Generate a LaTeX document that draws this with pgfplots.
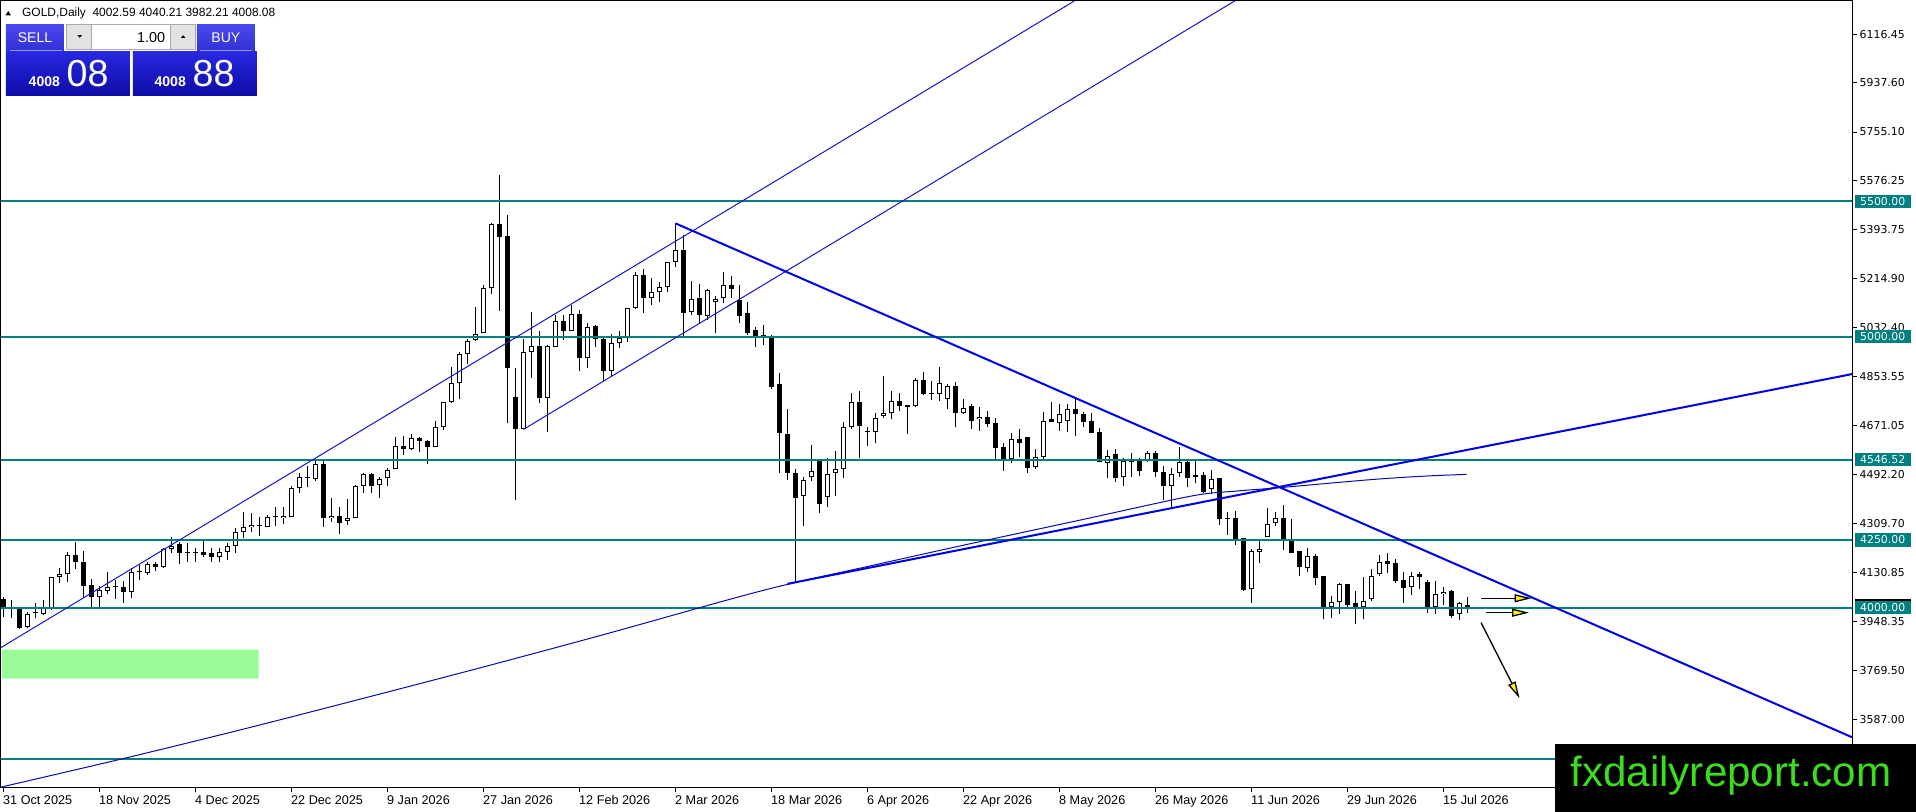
\documentclass[border=0pt]{standalone}
\usepackage{fontspec}
\setmainfont{Liberation Sans}
\newfontfamily\dejavu{DejaVu Sans}
\usepackage{pgfplots}
\pgfplotsset{compat=1.18}
\usepackage{pgfplotstable}
\usetikzlibrary{arrows.meta}

\definecolor{mtteal}{RGB}{0,128,128}
\definecolor{mtblue}{RGB}{0,0,230}
\definecolor{mtthin}{RGB}{20,20,200}
\definecolor{mtma}{RGB}{10,10,170}
\definecolor{palegr}{RGB}{152,251,152}
\definecolor{wmgreen}{RGB}{60,220,30}
\definecolor{btntop}{RGB}{72,72,236}
\definecolor{btnbot}{RGB}{48,48,212}
\definecolor{boxtop}{RGB}{40,40,224}
\definecolor{boxbot}{RGB}{12,12,165}
\definecolor{btnline}{RGB}{150,150,255}
\definecolor{ctlgray}{RGB}{226,226,226}
\definecolor{ctlborder}{RGB}{170,170,170}

\pgfplotstableread{
i o h l c
0 4031 4041 3967 3998
1 3996 4028 3961 3999
2 3998 4001 3921 3926
3 3930 3985 3924 3976
4 3979 4016 3961 3981
5 3975 4028 3973 3998
6 3998 4112 3991 4112
7 4112 4145 4092 4124
8 4124 4207 4096 4194
9 4194 4241 4142 4167
10 4170 4209 4041 4080
11 4084 4105 4001 4041
12 4041 4080 3994 4065
13 4063 4133 4049 4075
14 4075 4102 4032 4076
15 4075 4099 4019 4059
16 4059 4145 4037 4130
17 4130 4158 4102 4132
18 4129 4170 4121 4160
19 4160 4170 4137 4151
20 4151 4219 4148 4215
21 4215 4260 4203 4228
22 4234 4244 4160 4203
23 4204 4238 4170 4203
24 4203 4221 4170 4202
25 4204 4252 4188 4193
26 4200 4219 4170 4186
27 4186 4219 4167 4204
28 4204 4240 4176 4228
29 4228 4293 4203 4278
30 4278 4354 4256 4296
31 4296 4348 4281 4305
32 4302 4336 4266 4303
33 4299 4342 4297 4333
34 4334 4373 4301 4333
35 4330 4370 4309 4338
36 4336 4449 4336 4443
37 4440 4498 4424 4481
38 4481 4523 4444 4480
39 4474 4545 4467 4529
40 4529 4545 4299 4330
41 4330 4404 4317 4338
42 4338 4373 4272 4314
43 4321 4401 4305 4330
44 4330 4453 4330 4449
45 4449 4498 4424 4492
46 4492 4498 4422 4450
47 4453 4481 4404 4474
48 4477 4514 4450 4508
49 4511 4631 4511 4597
50 4597 4634 4563 4584
51 4584 4641 4582 4625
52 4625 4631 4576 4615
53 4615 4619 4530 4594
54 4592 4690 4592 4668
55 4668 4760 4656 4760
56 4760 4889 4754 4828
57 4828 4945 4769 4936
58 4936 4990 4898 4984
59 4988 5111 4985 5009
60 5012 5191 5012 5178
61 5178 5421 5158 5416
62 5416 5597 5096 5369
63 5372 5449 4680 4886
64 4776 4883 4397 4658
65 4658 4992 4658 4942
66 4945 5092 4849 4966
67 4966 5021 4757 4775
68 4775 4969 4650 4966
69 4963 5080 4963 5058
70 5058 5080 4988 5022
71 5022 5117 5022 5083
72 5083 5099 4873 4920
73 4920 5049 4883 5037
74 5041 5043 4963 4990
75 4992 4994 4837 4875
76 4875 5009 4853 4975
77 4975 5021 4957 4996
78 4996 5105 4982 5105
79 5105 5238 5101 5228
80 5228 5250 5089 5142
81 5142 5215 5117 5164
82 5164 5203 5127 5182
83 5182 5277 5164 5277
84 5277 5418 5258 5320
85 5320 5375 4994 5086
86 5092 5205 5080 5138
87 5144 5194 5049 5080
88 5078 5175 5062 5172
89 5127 5150 5012 5138
90 5144 5240 5123 5191
91 5191 5224 5144 5175
92 5135 5191 5052 5078
93 5089 5127 5006 5015
94 5025 5035 4963 5004
95 5004 5043 4969 5005
96 5000 5006 4806 4816
97 4826 4865 4498 4646
98 4641 4732 4471 4496
99 4496 4511 4096 4404
100 4413 4481 4301 4471
101 4481 4600 4469 4506
102 4545 4545 4348 4381
103 4410 4551 4373 4492
104 4496 4578 4412 4511
105 4511 4684 4480 4666
106 4668 4791 4658 4758
107 4758 4801 4551 4672
108 4650 4668 4598 4649
109 4647 4717 4606 4699
110 4709 4855 4701 4717
111 4717 4800 4695 4763
112 4763 4791 4726 4746
113 4748 4748 4641 4742
114 4744 4846 4742 4840
115 4840 4871 4783 4789
116 4787 4836 4766 4788
117 4787 4889 4764 4828
118 4770 4824 4733 4818
119 4818 4832 4665 4717
120 4717 4769 4713 4736
121 4744 4752 4659 4690
122 4695 4739 4653 4705
123 4702 4727 4666 4678
124 4680 4699 4548 4591
125 4592 4607 4506 4547
126 4547 4643 4535 4621
127 4621 4658 4557 4609
128 4629 4629 4498 4517
129 4520 4584 4511 4555
130 4555 4721 4547 4689
131 4695 4760 4684 4684
132 4680 4752 4653 4713
133 4689 4752 4647 4732
134 4732 4772 4635 4713
135 4713 4723 4666 4684
136 4689 4717 4643 4646
137 4647 4662 4536 4536
138 4533 4582 4477 4561
139 4566 4586 4463 4480
140 4481 4551 4450 4541
141 4541 4570 4483 4536
142 4543 4551 4487 4506
143 4543 4578 4539 4570
144 4570 4578 4481 4502
145 4500 4524 4397 4450
146 4450 4514 4367 4492
147 4496 4594 4483 4536
148 4536 4541 4444 4480
149 4490 4541 4459 4484
150 4490 4502 4422 4428
151 4437 4508 4420 4474
152 4477 4477 4305 4326
153 4326 4352 4268 4327
154 4330 4358 4231 4252
155 4256 4256 4063 4065
156 4068 4215 4019 4210
157 4204 4246 4166 4215
158 4262 4367 4262 4309
159 4311 4352 4301 4330
160 4330 4379 4213 4252
161 4250 4326 4201 4203
162 4209 4209 4117 4151
163 4145 4219 4133 4191
164 4191 4198 4084 4108
165 4117 4117 3957 3998
166 4001 4043 3961 4022
167 4022 4092 3977 4087
168 4087 4087 4001 4010
169 4019 4062 3940 4004
170 4004 4112 3957 4026
171 4031 4143 4026 4118
172 4123 4194 4117 4170
173 4172 4201 4127 4160
174 4164 4178 4092 4100
175 4102 4133 4019 4071
176 4075 4133 4047 4118
177 4123 4133 4068 4114
178 4094 4102 3982 4001
179 4001 4098 3977 4049
180 4049 4078 4010 4057
181 4062 4065 3963 3969
182 3977 4022 3955 4016
183 4002.59 4040.21 3982.21 4008.08
}\candles

\begin{document}
\begin{tikzpicture}
\begin{axis}[
  scale only axis, width=18.51cm, height=7.87cm,
  at={(0,0)}, anchor=south west,
  xmin=-0.3125, xmax=231.0625, ymin=3334.7, ymax=6238.7,
  axis line style={line width=0.2845pt, black},
  tick align=outside, major tick length=0.045cm,
  tick style={line width=0.2845pt, black},
  xtick pos=bottom, ytick pos=right, yticklabel pos=right,
  xtick={0,12,...,180},
  xticklabels={31 Oct 2025,18 Nov 2025,4 Dec 2025,22 Dec 2025,9 Jan 2026,27 Jan 2026,12 Feb 2026,2 Mar 2026,18 Mar 2026,6 Apr 2026,22 Apr 2026,8 May 2026,26 May 2026,11 Jun 2026,29 Jun 2026,15 Jul 2026},
  xticklabel style={font=\fontsize{3.6}{4}\selectfont, anchor=north west, inner sep=0pt, xshift=-0.01cm, yshift=-0.02cm},
  ytick={6116.45,5937.60,5755.10,5576.25,5393.75,5214.90,5032.40,4853.55,4671.05,4492.20,4309.70,4130.85,3948.35,3769.50,3587.00},
  yticklabels={6116.45,5937.60,5755.10,5576.25,5393.75,5214.90,5032.40,4853.55,4671.05,4492.20,4309.70,4130.85,3948.35,3769.50,3587.00},
  yticklabel style={font=\dejavu\fontsize{3.1}{3.6}\selectfont, anchor=west, inner sep=0pt, xshift=0.025cm},
  candle/.style={draw=none, no markers, forget plot, error bars/.cd, y dir=plus, y explicit, error mark=none},
]
% green zone
\addplot[fill=palegr, draw=none] coordinates {(-0.2,3738) (31.9,3738) (31.9,3845) (-0.2,3845) (-0.2,3738)};
% wicks
\addplot[candle, error bar style={draw=black, line width=0.2845pt, line cap=butt}]
  table[x=i, y=l, y error expr=\thisrow{h}-\thisrow{l}] {\candles};
% bodies
\addplot[candle, error bar style={draw=black, line width=1.42pt, line cap=butt}]
  table[x=i, y expr={min(\thisrow{o},\thisrow{c})}, y error expr={max(abs(\thisrow{c}-\thisrow{o}),3.69)}] {\candles};
\addplot[candle, error bar style={draw=white, line width=0.85pt, line cap=butt}]
  table[x=i, y expr={min(\thisrow{o},\thisrow{c})+3.69}, y error expr={(\thisrow{c}>\thisrow{o})*max(abs(\thisrow{c}-\thisrow{o})-7.38,0)}] {\candles};
% horizontal levels
\addplot[mtteal, line width=0.57pt] coordinates {(-0.3125,5500) (231.0625,5500)};
\addplot[mtteal, line width=0.57pt] coordinates {(-0.3125,5000) (231.0625,5000)};
\addplot[mtteal, line width=0.57pt] coordinates {(-0.3125,4546.52) (231.0625,4546.52)};
\addplot[mtteal, line width=0.57pt] coordinates {(-0.3125,4250) (231.0625,4250)};
\addplot[mtteal, line width=0.57pt] coordinates {(-0.3125,4000) (231.0625,4000)};
\addplot[mtteal, line width=0.57pt] coordinates {(-0.3125,3441) (231.0625,3441)};
% moving average
\addplot[mtma, line width=0.2845pt, smooth] coordinates {(-0.31,3338) (14.8,3442) (30,3552) (45.3,3668) (60.6,3786) (75.8,3907) (90.8,4031) (98,4086) (108,4152) (119.6,4228) (134.7,4324) (148.5,4412) (154,4430) (159.6,4443) (166,4460) (172,4475) (178,4486) (182.9,4492)};
% channel
\addplot[mtthin, line width=0.2845pt] coordinates {(-0.31,3853) (133.86,6238.7)};
\addplot[mtthin, line width=0.2845pt] coordinates {(65,4658) (153.9,6238.7)};
% trend lines
\addplot[mtblue, line width=0.57pt] coordinates {(84,5418) (231.0625,3522)};
\addplot[mtblue, line width=0.57pt] coordinates {(98,4088) (231.0625,4862)};
% arrows
\addplot[black, line width=0.37pt, -{Triangle[length=0.17cm,width=0.08cm,fill=yellow]}] coordinates {(184.7,4034.7) (191.0,4034.7)};
\addplot[black, line width=0.37pt, -{Triangle[length=0.17cm,width=0.08cm,fill=yellow]}] coordinates {(185.3,3981.5) (190.7,3981.5)};
\addplot[black, line width=0.37pt, -{Triangle[length=0.17cm,width=0.08cm,fill=yellow]}] coordinates {(184.7,3944.6) (189.5,3665.7)};
\coordinate (T5500) at (axis cs:231.0625,5500);
\coordinate (T5000) at (axis cs:231.0625,5000);
\coordinate (T4546) at (axis cs:231.0625,4546.52);
\coordinate (T4250) at (axis cs:231.0625,4250);
\coordinate (T4000) at (axis cs:231.0625,4000);
\coordinate (T4008) at (axis cs:231.0625,4008.08);
\end{axis}
% price labels of levels
\tikzset{lvl/.style={fill=mtteal, text=white, anchor=west, inner xsep=0.055cm, inner ysep=0.025cm, font=\dejavu\fontsize{3.1}{3.6}\selectfont}}
\node[lvl, fill=black, text=black] at ([xshift=0.02cm]T4008) {4008.08};
\node[lvl] at ([xshift=0.02cm]T5500) {5500.00};
\node[lvl] at ([xshift=0.02cm]T5000) {5000.00};
\node[lvl] at ([xshift=0.02cm]T4546) {4546.52};
\node[lvl] at ([xshift=0.02cm]T4250) {4250.00};
\node[lvl] at ([xshift=0.02cm]T4000) {4000.00};
% header, trade panel and watermark (pixel coordinates)
\begin{scope}[shift={(-0.01cm,7.88cm)}, x=0.01cm, y=-0.01cm]
  \fill[black] (5.5,15.5) -- (11,15.5) -- (8.25,11) -- cycle;
  \node[anchor=base west, inner sep=0pt, font=\fontsize{3.4}{4}\selectfont] at (21.5,16.8) {GOLD,Daily\ \ 4002.59 4040.21 3982.21 4008.08};
  \shade[top color=btntop, bottom color=btnbot] (6,25) rectangle (64,52);
  \shade[top color=btntop, bottom color=btnbot] (197,25) rectangle (255,52);
  \draw[btnline, line width=0.2845pt] (10,50.5) -- (62,50.5);
  \draw[btnline, line width=0.2845pt] (200,50.5) -- (252,50.5);
  \node[text=white, inner sep=0pt, font=\fontsize{4}{5}\selectfont] at (35,38) {SELL};
  \node[text=white, inner sep=0pt, font=\fontsize{4}{5}\selectfont] at (226,38) {BUY};
  \fill[ctlgray] (67,25) rectangle (92,50);
  \fill[white] (92,25) rectangle (171,50);
  \fill[ctlgray] (171,25) rectangle (196,50);
  \draw[ctlborder, line width=0.2845pt] (67,25) rectangle (196,50) (92,25) -- (92,50) (171,25) -- (171,50);
  \fill[black] (77.5,35.2) -- (82,35.2) -- (79.75,37.8) -- cycle;
  \fill[black] (181,37.8) -- (185.5,37.8) -- (183.25,35.2) -- cycle;
  \node[anchor=east, inner sep=0pt, font=\fontsize{4.1}{5}\selectfont] at (166,37.5) {1.00};
  \shade[top color=boxtop, bottom color=boxbot] (6,52) rectangle (130,96);
  \shade[top color=boxtop, bottom color=boxbot] (133,52) rectangle (257,96);
  \node[anchor=base west, inner sep=0pt, text=white, font=\bfseries\fontsize{4}{5}\selectfont] at (28,87) {4008};
  \node[anchor=base west, inner sep=0pt, text=white, font=\fontsize{10.7}{12}\selectfont] at (66,87) {08};
  \node[anchor=base west, inner sep=0pt, text=white, font=\bfseries\fontsize{4}{5}\selectfont] at (154,87) {4008};
  \node[anchor=base west, inner sep=0pt, text=white, font=\fontsize{10.7}{12}\selectfont] at (192,87) {88};
  \fill[black] (1556,744) rectangle (1918,814);
  \node[anchor=base, inner sep=0pt, text=wmgreen, font=\fontsize{12}{14}\selectfont] at (1732,787) {fxdailyreport.com};
\end{scope}
\pgfresetboundingbox
\useasboundingbox (-0.01cm,-0.24cm) rectangle (19.15cm,7.88cm);
\end{tikzpicture}
\end{document}
